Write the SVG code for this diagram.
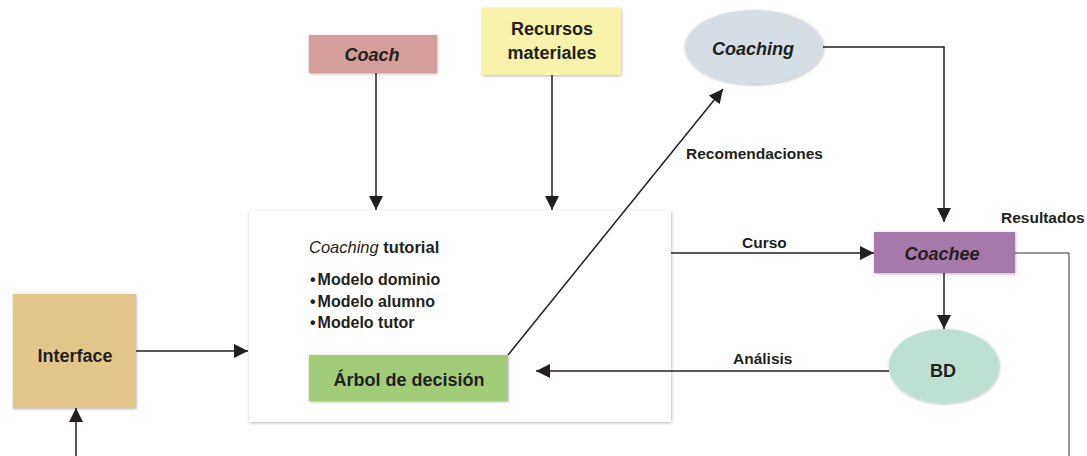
<svg xmlns="http://www.w3.org/2000/svg" width="1087" height="456" viewBox="0 0 1087 456">
<defs>
<filter id="sh" x="-10%" y="-10%" width="120%" height="130%">
<feDropShadow dx="0.5" dy="1" stdDeviation="1.5" flood-color="#000" flood-opacity="0.3"/>
</filter>
<marker id="ah" markerUnits="userSpaceOnUse" markerWidth="16" markerHeight="14" refX="14" refY="7" orient="auto">
<path d="M0,0 L14,7 L0,14 Z" fill="#231f20"/>
</marker>
</defs>
<style>
text{font-family:"Liberation Sans",Arial,sans-serif;font-weight:bold;fill:#231f20}
.n{font-size:18px;text-anchor:middle}
.i{font-style:italic}
.l{font-size:15.5px}
.b{font-size:16px}
.c{fill:none;stroke:#231f20;stroke-width:1.5}
</style>
<g id="tutorial">
<rect x="249" y="211" width="422" height="211" fill="#fff" filter="url(#sh)"/>
<text x="309" y="253" font-size="16.5"><tspan class="i" font-weight="normal">Coaching</tspan> tutorial</text>
<text class="b" x="310" y="285">•<tspan dx="2">Modelo dominio</tspan></text>
<text class="b" x="310" y="307">•<tspan dx="2">Modelo alumno</tspan></text>
<text class="b" x="310" y="328">•<tspan dx="2">Modelo tutor</tspan></text>
</g>
<g id="arbol">
<rect x="309" y="355" width="199" height="46" fill="#a3cc78" filter="url(#sh)"/>
<text class="n" x="409" y="386" font-size="18.5">Árbol de decisión</text>
</g>
<g id="coach">
<rect x="309" y="35" width="128" height="38" fill="#d39e9b" filter="url(#sh)"/>
<text class="n i" x="372" y="61">Coach</text>
</g>
<g id="recursos">
<rect x="482" y="8" width="139" height="67" fill="#f7f3ab" filter="url(#sh)"/>
<text class="n" x="552" y="35">Recursos</text>
<text class="n" x="552" y="59">materiales</text>
</g>
<g id="coaching">
<ellipse cx="754" cy="47" rx="69" ry="37" fill="#d5dde5" filter="url(#sh)"/>
<text class="n i" x="753" y="55">Coaching</text>
</g>
<g id="coachee">
<rect x="874" y="232" width="141" height="41" fill="#a579a8" filter="url(#sh)"/>
<text class="n i" x="942" y="260">Coachee</text>
</g>
<g id="bd">
<ellipse cx="944" cy="366" rx="55" ry="37" fill="#bde0d2" filter="url(#sh)"/>
<text class="n" x="943" y="377" font-size="19">BD</text>
</g>
<g id="interface">
<rect x="13" y="294" width="123" height="114" fill="#e3c78a" filter="url(#sh)"/>
<text class="n" x="75" y="362">Interface</text>
</g>
<g id="connectors">
<line class="c" x1="376" y1="73" x2="376" y2="210" marker-end="url(#ah)"/>
<line class="c" x1="552" y1="75" x2="552" y2="210" marker-end="url(#ah)"/>
<line class="c" x1="508" y1="355" x2="723" y2="89" marker-end="url(#ah)"/>
<polyline class="c" points="823,47 944,47 944,222" marker-end="url(#ah)"/>
<line class="c" x1="671" y1="253" x2="874" y2="253" marker-end="url(#ah)"/>
<line class="c" x1="944" y1="273" x2="944" y2="329" marker-end="url(#ah)"/>
<line class="c" x1="889" y1="371" x2="536" y2="371" marker-end="url(#ah)"/>
<line class="c" x1="136" y1="351" x2="248" y2="351" marker-end="url(#ah)"/>
<line class="c" x1="76" y1="456" x2="76" y2="408" marker-end="url(#ah)"/>
<polyline fill="none" stroke="#333" stroke-width="1" points="1015,253 1069,253 1069,456"/>
<text class="l" x="686" y="159">Recomendaciones</text>
<text class="l" x="742" y="248">Curso</text>
<text class="l" x="733" y="364">Análisis</text>
<text class="l" x="1001" y="223">Resultados</text>
</g>
</svg>
